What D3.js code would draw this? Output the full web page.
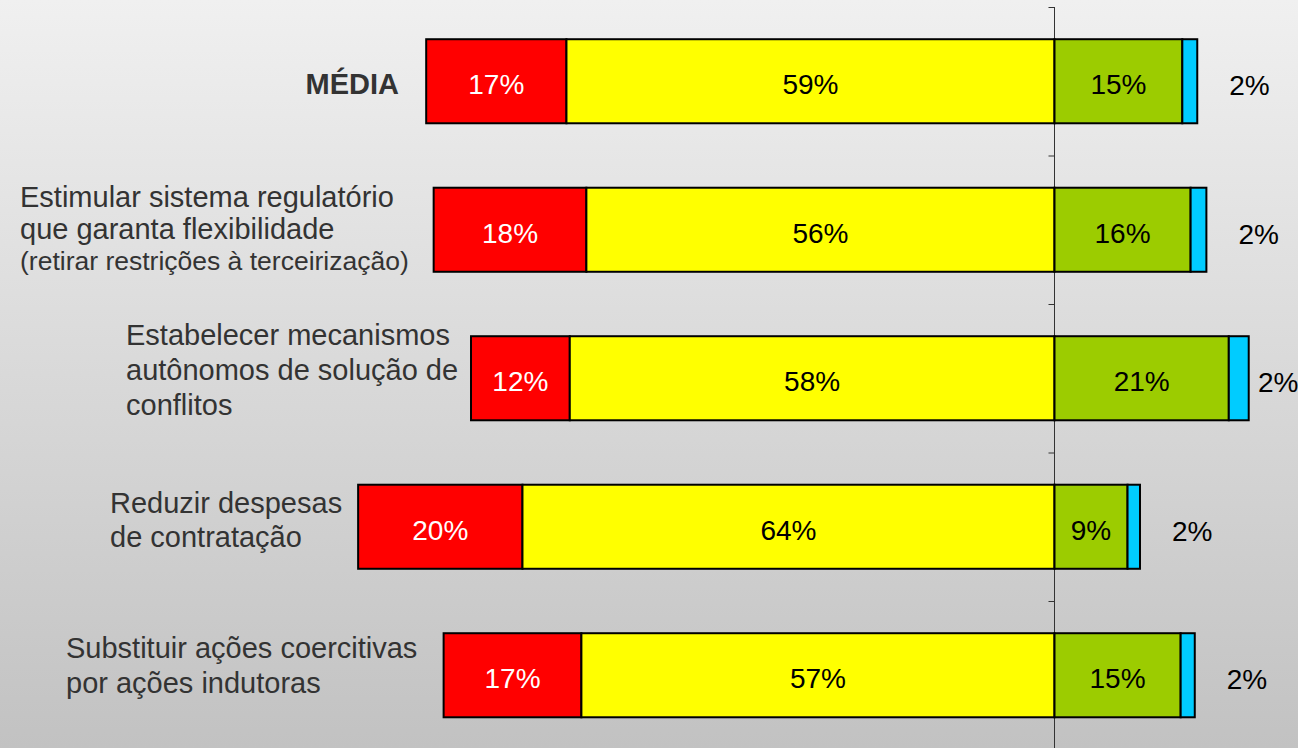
<!DOCTYPE html>
<html>
<head>
<meta charset="utf-8">
<script src="https://cdn.jsdelivr.net/npm/d3@7"></script>
<style>
  html, body { margin: 0; padding: 0; overflow: hidden; }
  svg { display: block; font-family: "Liberation Sans", Arial, sans-serif; }
</style>
</head>
<body>
<div id="chart"></div>
<script>
// data (percent)
var categories = ["MÉDIA", "Estimular", "Estabelecer", "Reduzir", "Substituir"];
var categoryLines = [
  ["MÉDIA"],
  ["Estimular sistema regulatório", "que garanta flexibilidade", "(retirar restrições à terceirização)"],
  ["Estabelecer mecanismos", "autônomos de solução de", "conflitos"],
  ["Reduzir despesas", "de contratação"],
  ["Substituir ações coercitivas", "por ações indutoras"]
];
var redValues    = [16.9, 18.4, 11.9, 19.8, 16.6];
var yellowValues = [58.8, 56.4, 58.4, 64.1, 57.0];
var greenValues  = [15.4, 16.4, 21.0,  8.8, 15.2];
var blueValues   = [ 1.8,  1.9,  2.4,  1.5,  1.7];

var width = 1298, height = 748;
var axisX = 1054.5;
var pxPerPct = 8.3;

// label layout (Excel style text boxes)
var labelX      = [399, 20, 126, 110, 66];
var labelAnchor = ["end", "start", "start", "start", "start"];
var labelDy     = [[13], [-23, 9, 40], [-33, 2, 37], [-14, 20], [-17, 18]];

var svg = d3.select("#chart").append("svg")
  .attr("width", width)
  .attr("height", height);

var defs = svg.append("defs");
var grad = defs.append("linearGradient")
  .attr("id", "bg")
  .attr("x1", 0).attr("y1", 0).attr("x2", 0).attr("y2", 1);
grad.append("stop").attr("offset", "0%").attr("stop-color", "#f0f0f0");
grad.append("stop").attr("offset", "100%").attr("stop-color", "#c2c2c2");

svg.append("rect")
  .attr("width", width).attr("height", height)
  .attr("fill", "url(#bg)");

var x = d3.scaleLinear()
  .domain([-80, 30])
  .range([axisX - 80 * pxPerPct, axisX + 30 * pxPerPct]);

var y = d3.scaleBand()
  .domain(categories)
  .range([7, 7 + 148.5 * categories.length])
  .paddingInner(0.434)
  .paddingOuter(0.217);

// build segments: red & yellow to the left of zero, green & blue to the right
var series = [
  { key: "red",    values: redValues,    fill: "#ff0000", text: "#ffffff" },
  { key: "yellow", values: yellowValues, fill: "#ffff00", text: "#000000" },
  { key: "green",  values: greenValues,  fill: "#9ccc00", text: "#000000" },
  { key: "blue",   values: blueValues,   fill: "#00ccff", text: "#000000" }
];

var segs = [];
categories.forEach(function(c, i) {
  var left = -(redValues[i] + yellowValues[i]);
  segs.push({ cat: c, key: "red", x0: left, x1: left + redValues[i], v: redValues[i], s: series[0] });
  segs.push({ cat: c, key: "yellow", x0: -yellowValues[i], x1: 0, v: yellowValues[i], s: series[1] });
  segs.push({ cat: c, key: "green", x0: 0, x1: greenValues[i], v: greenValues[i], s: series[2] });
  segs.push({ cat: c, key: "blue", x0: greenValues[i], x1: greenValues[i] + blueValues[i], v: blueValues[i], s: series[3] });
});

// axis at zero
var yAxis = d3.axisLeft(y).tickSize(6).tickFormat("");
var ax = svg.append("g")
  .attr("transform", "translate(" + axisX + ",0)")
  .call(yAxis);
ax.select(".domain").remove();
ax.selectAll(".tick line")
  .attr("transform", function() {
    return "translate(0," + (-y.step() * 0.5 + 0.5) + ")";
  })
  .attr("stroke", "#333");
svg.append("line")
  .attr("x1", axisX).attr("x2", axisX)
  .attr("y1", 7).attr("y2", height)
  .attr("stroke", "#333").attr("stroke-width", 1);

svg.selectAll("rect.seg")
  .data(segs)
  .enter().append("rect")
  .attr("class", "seg")
  .attr("x", function(d) { return x(d.x0); })
  .attr("y", function(d) { return y(d.cat); })
  .attr("width", function(d) { return x(d.x1) - x(d.x0); })
  .attr("height", y.bandwidth())
  .attr("fill", function(d) { return d.s.fill; })
  .attr("stroke", "#000")
  .attr("stroke-width", 2);

// value labels inside (red, yellow, green)
svg.selectAll("text.val")
  .data(segs.filter(function(d) { return d.key != "blue"; }))
  .enter().append("text")
  .attr("class", "val")
  .attr("x", function(d) { return (x(d.x0) + x(d.x1)) / 2; })
  .attr("y", function(d) { return y(d.cat) + y.bandwidth() / 2 + 13; })
  .attr("text-anchor", "middle")
  .attr("fill", function(d) { return d.s.text; })
  .style("font-size", "28px")
  .text(function(d) { return Math.round(d.v) + "%"; });

// blue labels outside the bar
svg.selectAll("text.blue")
  .data(segs.filter(function(d) { return d.key == "blue"; }))
  .enter().append("text")
  .attr("class", "blue")
  .attr("x", function(d) { return Math.min(x(d.x1) + 32, 1258); })
  .attr("y", function(d) { return y(d.cat) + y.bandwidth() / 2 + 14; })
  .attr("fill", "#000")
  .style("font-size", "28px")
  .text(function(d) { return Math.round(d.v) + "%"; });

// category labels
categories.forEach(function(c, i) {
  var cy = y(c) + y.bandwidth() / 2;
  var t = svg.append("text")
    .attr("text-anchor", labelAnchor[i])
    .attr("fill", "#333")
    .style("font-size", "29px")
    .style("font-weight", i == 0 ? "bold" : "normal");
  categoryLines[i].forEach(function(line, j) {
    t.append("tspan")
      .attr("x", labelX[i])
      .attr("y", cy + labelDy[i][j])
      .style("font-size", (i == 1 && j == 2) ? "26.5px" : null)
      .text(line);
  });
});
</script>
</body>
</html>
